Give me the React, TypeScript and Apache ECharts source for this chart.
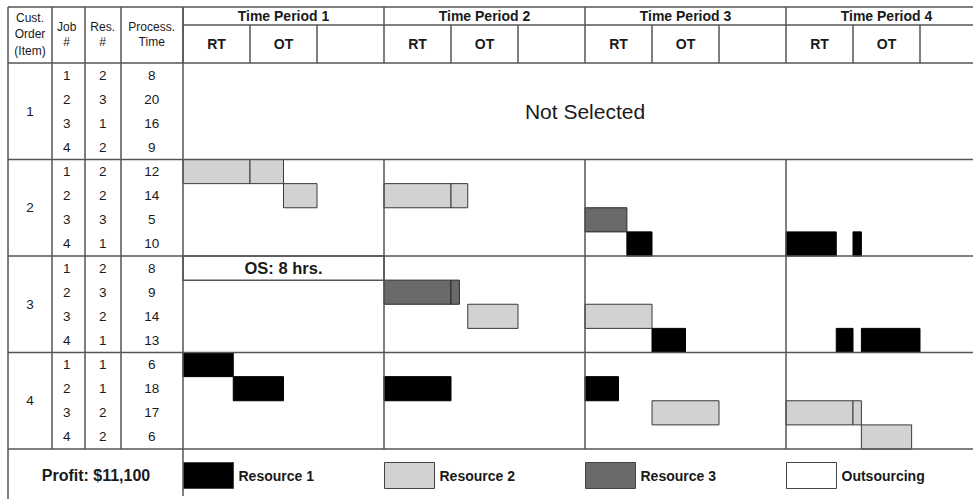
import React, { useEffect, useRef } from 'react';
import * as echarts from 'echarts';

// ---------------- data ----------------
const PERIODS = ['Time Period 1', 'Time Period 2', 'Time Period 3', 'Time Period 4'];
const SHIFT_LABELS = ['RT', 'OT', ''];
const ORDERS = ['1', '2', '3', '4'];
const JOB_NUMBERS = [1, 2, 3, 4];
const RESOURCE_NUMBERS = [
  [2, 3, 1, 2],
  [2, 2, 3, 1],
  [2, 3, 2, 1],
  [1, 1, 2, 2],
];
const PROCESS_TIMES = [
  [8, 20, 16, 9],
  [12, 14, 5, 10],
  [8, 9, 14, 13],
  [6, 18, 17, 6],
];
const ORDER_SELECTED = [false, true, true, true];
const PROFIT = 11100;
// segments: [job row, start hour, end hour]  (24 h per period: 8 RT, 8 OT, 8 idle)
const RESOURCE1_SEGMENTS = [
  [7, 53, 56], [7, 72, 78], [7, 80, 81],
  [11, 56, 60], [11, 78, 80], [11, 81, 88],
  [12, 0, 6],
  [13, 6, 12], [13, 24, 32], [13, 48, 52],
];
const RESOURCE2_SEGMENTS = [
  [4, 0, 8], [4, 8, 12],
  [5, 12, 16], [5, 24, 32], [5, 32, 34],
  [10, 34, 40], [10, 48, 56],
  [14, 56, 64], [14, 72, 80], [14, 80, 81],
  [15, 81, 87],
];
const RESOURCE3_SEGMENTS = [
  [6, 48, 53],
  [9, 24, 32], [9, 32, 33],
];
// outsourced: [job row, start hour, end hour, order index, job index]
const OUTSOURCED = [[8, 0, 24, 2, 0]];
const LEGEND_NAMES = ['Resource 1', 'Resource 2', 'Resource 3', 'Outsourcing'];
const LEGEND_COLORS = ['#000000', '#d2d2d2', '#6a6a6a', '#ffffff'];

// ---------------- layout ----------------
const FONT = 'Liberation Sans';
const LINE = '#555555';
const LW = 1.5;
const TABLE_X = 8;
const SCHED_X = 183;
const HOUR_PX = 8.375;
const HOURS = 96;
const SCHED_W = HOURS * HOUR_PX;
const TOP_Y = 7;
const HEAD_Y = 25;
const BODY_Y = 63;
const BODY_BOTTOM = 449;
const ROWS = 16;
const ROW_H = (BODY_BOTTOM - BODY_Y) / ROWS;
const RIGHT_X = 973;
const BOTTOM_Y = 499;
const COL_BOUNDS = [0, 44, 77, 113, 175];
const COL_CENTERS = [22, 58.7, 94.7, 143.7];

const xh = (h: number) => SCHED_X + h * HOUR_PX;
const yr = (r: number) => BODY_Y + r * ROW_H;

function line(x1: number, y1: number, x2: number, y2: number) {
  return {
    type: 'line',
    silent: true,
    z: 5,
    shape: { x1, y1, x2, y2 },
    style: { stroke: LINE, lineWidth: LW },
  };
}

function txt(x: number, y: number, text: string, size: number, weight: string, lineHeight?: number) {
  return {
    type: 'text',
    silent: true,
    z: 6,
    x,
    y,
    style: {
      text,
      fill: '#1a1a1a',
      fontSize: size,
      fontWeight: weight,
      fontFamily: FONT,
      lineHeight: lineHeight || size * 1.2,
      align: 'center',
      verticalAlign: 'middle',
      textAlign: 'center',
      textVerticalAlign: 'middle',
    },
  };
}

function cellText(x: number, y: number, text: string, size: number, weight = 'normal') {
  return {
    type: 'text',
    x,
    y,
    style: {
      text,
      fill: '#1a1a1a',
      fontSize: size,
      fontWeight: weight,
      fontFamily: FONT,
      align: 'center',
      verticalAlign: 'middle',
      textAlign: 'center',
      textVerticalAlign: 'middle',
    },
  };
}

function barRenderer(fill: string, stroke: string) {
  return (params: any, api: any) => {
    const p0 = api.coord([api.value(0), api.value(2)]);
    const p1 = api.coord([api.value(1), api.value(2) + 1]);
    return {
      type: 'rect',
      shape: { x: p0[0], y: p0[1], width: p1[0] - p0[0], height: p1[1] - p0[1] },
      style: { fill, stroke, lineWidth: 1 },
    };
  };
}

function buildOption() {
  const graphics: any[] = [];
  // horizontal frame
  graphics.push(line(TABLE_X, TOP_Y, RIGHT_X, TOP_Y));
  for (let k = 0; k <= ORDERS.length; k++) {
    graphics.push(line(TABLE_X, yr(k * 4), RIGHT_X, yr(k * 4)));
  }
  // vertical frame
  graphics.push(line(TABLE_X, TOP_Y, TABLE_X, BOTTOM_Y));
  graphics.push(line(SCHED_X, TOP_Y, SCHED_X, BOTTOM_Y - 3));
  for (let c = 1; c < COL_BOUNDS.length - 1; c++) {
    const x = TABLE_X + COL_BOUNDS[c];
    graphics.push(line(x, TOP_Y, x, BODY_BOTTOM));
  }
  // period dividers in body for selected orders
  ORDER_SELECTED.forEach((sel, i) => {
    if (!sel) return;
    for (let p = 1; p < PERIODS.length; p++) {
      graphics.push(line(xh(p * 24), yr(i * 4), xh(p * 24), yr(i * 4 + 4)));
    }
  });
  // left header texts
  graphics.push(txt(30, 34, 'Cust.\nOrder\n(Item)', 12, 'normal', 16.5));
  graphics.push(txt(66.7, 34.5, 'Job\n#', 12, 'normal', 15));
  graphics.push(txt(102.7, 34.5, 'Res.\n#', 12, 'normal', 15));
  graphics.push(txt(151.7, 34.5, 'Process.\nTime', 12, 'normal', 15));
  // profit
  graphics.push(txt(96, 475, 'Profit: $' + PROFIT.toLocaleString('en-US'), 16, 'bold'));

  const shiftData: string[] = [];
  PERIODS.forEach(() => SHIFT_LABELS.forEach((s) => shiftData.push(s)));

  const jobRows: number[][] = [];
  ORDERS.forEach((_, o) => {
    JOB_NUMBERS.forEach((job, j) => {
      jobRows.push([o * 4 + j, job, RESOURCE_NUMBERS[o][j], PROCESS_TIMES[o][j]]);
    });
  });
  const orderRows = ORDERS.map((_, o) => [o * 4 + 2, o]);
  const notSelected = ORDER_SELECTED.map((s, i) => (s ? null : [HOURS / 2, i * 4 + 2, i])).filter(Boolean);

  const tickStyle = { color: LINE, width: LW };
  const labelStyle = { fontWeight: 'bold', fontSize: 14, color: '#1a1a1a', fontFamily: FONT };

  return {
    animation: false,
    backgroundColor: '#ffffff',
    textStyle: { fontFamily: FONT },
    grid: [
      {
        left: SCHED_X,
        top: BODY_Y,
        width: SCHED_W,
        height: BODY_BOTTOM - BODY_Y,
        outerBoundsMode: 'none',
        containLabel: false,
      },
      {
        left: TABLE_X,
        top: BODY_Y,
        width: SCHED_X - TABLE_X,
        height: BODY_BOTTOM - BODY_Y,
        outerBoundsMode: 'none',
        containLabel: false,
      },
    ],
    xAxis: [
      { type: 'value', gridIndex: 0, min: 0, max: HOURS, show: false },
      {
        type: 'category',
        gridIndex: 0,
        position: 'top',
        data: shiftData,
        boundaryGap: true,
        axisLine: { show: false },
        axisTick: { show: true, length: BODY_Y - HEAD_Y, interval: 0, lineStyle: tickStyle },
        axisLabel: { interval: 0, margin: 12, ...labelStyle },
        splitLine: { show: false },
      },
      {
        type: 'category',
        gridIndex: 0,
        position: 'top',
        offset: BODY_Y - HEAD_Y,
        data: PERIODS,
        boundaryGap: true,
        axisLine: { show: true, lineStyle: tickStyle },
        axisTick: { show: true, length: HEAD_Y - TOP_Y, interval: 0, lineStyle: tickStyle },
        axisLabel: { interval: 0, margin: 2, ...labelStyle },
        splitLine: { show: false },
      },
      { type: 'value', gridIndex: 1, min: 0, max: COL_BOUNDS[COL_BOUNDS.length - 1], show: false },
    ],
    yAxis: [
      { type: 'value', gridIndex: 0, min: 0, max: ROWS, inverse: true, show: false },
      { type: 'value', gridIndex: 1, min: 0, max: ROWS, inverse: true, show: false },
    ],
    legend: LEGEND_NAMES.map((name, i) => ({
      show: true,
      left: SCHED_X + i * 24 * HOUR_PX,
      top: 462,
      padding: 0,
      itemWidth: 50,
      itemHeight: 26,
      itemGap: 0,
      selectedMode: false,
      textStyle: { fontWeight: 'bold', fontSize: 14, color: '#1a1a1a', fontFamily: FONT },
      data: [
        {
          name,
          icon: 'rect',
          itemStyle: { color: LEGEND_COLORS[i], borderColor: '#444444', borderWidth: 1 },
        },
      ],
    })),
    graphic: { elements: graphics },
    series: [
      {
        name: 'Resource 1',
        type: 'custom',
        xAxisIndex: 0,
        yAxisIndex: 0,
        silent: true,
        itemStyle: { color: LEGEND_COLORS[0], borderColor: '#000' },
        encode: { x: [0, 1], y: 2 },
        renderItem: barRenderer(LEGEND_COLORS[0], '#000000'),
        data: RESOURCE1_SEGMENTS.map(([r, s, e]) => [s, e, r]),
      },
      {
        name: 'Resource 2',
        type: 'custom',
        xAxisIndex: 0,
        yAxisIndex: 0,
        silent: true,
        itemStyle: { color: LEGEND_COLORS[1], borderColor: '#444' },
        encode: { x: [0, 1], y: 2 },
        renderItem: barRenderer(LEGEND_COLORS[1], '#3a3a3a'),
        data: RESOURCE2_SEGMENTS.map(([r, s, e]) => [s, e, r]),
      },
      {
        name: 'Resource 3',
        type: 'custom',
        xAxisIndex: 0,
        yAxisIndex: 0,
        silent: true,
        itemStyle: { color: LEGEND_COLORS[2], borderColor: '#333' },
        encode: { x: [0, 1], y: 2 },
        renderItem: barRenderer(LEGEND_COLORS[2], '#2a2a2a'),
        data: RESOURCE3_SEGMENTS.map(([r, s, e]) => [s, e, r]),
      },
      {
        name: 'Outsourcing',
        type: 'custom',
        xAxisIndex: 0,
        yAxisIndex: 0,
        silent: true,
        itemStyle: { color: LEGEND_COLORS[3], borderColor: '#444' },
        encode: { x: [0, 1], y: 2 },
        renderItem: (params: any, api: any) => {
          const p0 = api.coord([api.value(0), api.value(2)]);
          const p1 = api.coord([api.value(1), api.value(2) + 1]);
          const hrs = PROCESS_TIMES[api.value(3)][api.value(4)];
          return {
            type: 'group',
            children: [
              {
                type: 'rect',
                shape: { x: p0[0], y: p0[1], width: p1[0] - p0[0], height: p1[1] - p0[1] },
                style: { fill: '#ffffff', stroke: LINE, lineWidth: LW },
              },
              cellText((p0[0] + p1[0]) / 2, (p0[1] + p1[1]) / 2, 'OS: ' + hrs + ' hrs.', 16.5, 'bold'),
            ],
          };
        },
        data: OUTSOURCED.map(([r, s, e, o, j]) => [s, e, r, o, j]),
      },
      {
        name: 'notSelected',
        type: 'custom',
        xAxisIndex: 0,
        yAxisIndex: 0,
        silent: true,
        renderItem: (params: any, api: any) => {
          const p = api.coord([api.value(0), api.value(1)]);
          return cellText(p[0], p[1], 'Not Selected', 21);
        },
        data: notSelected,
      },
      {
        name: 'orderCells',
        type: 'custom',
        xAxisIndex: 3,
        yAxisIndex: 1,
        silent: true,
        renderItem: (params: any, api: any) => {
          const p = api.coord([COL_CENTERS[0], api.value(0)]);
          return cellText(p[0], p[1], ORDERS[api.value(1)], 13.5);
        },
        data: orderRows,
      },
      {
        name: 'jobCells',
        type: 'custom',
        xAxisIndex: 3,
        yAxisIndex: 1,
        silent: true,
        renderItem: (params: any, api: any) => {
          const row = api.value(0);
          const children = [1, 2, 3].map((k) => {
            const p = api.coord([COL_CENTERS[k], row + 0.5]);
            return cellText(p[0], p[1], String(api.value(k)), 13.5);
          });
          return { type: 'group', children };
        },
        data: jobRows,
      },
    ],
  };
}

export default function App() {
  const ref = useRef<HTMLDivElement>(null);
  useEffect(() => {
    const chart = echarts.init(ref.current as HTMLDivElement, null, { renderer: 'svg' });
    chart.setOption(buildOption() as any);
    return () => chart.dispose();
  }, []);
  return (
    <div
      ref={ref}
      style={{ position: 'fixed', left: 0, top: 0, width: 973, height: 499, background: '#ffffff' }}
    />
  );
}
